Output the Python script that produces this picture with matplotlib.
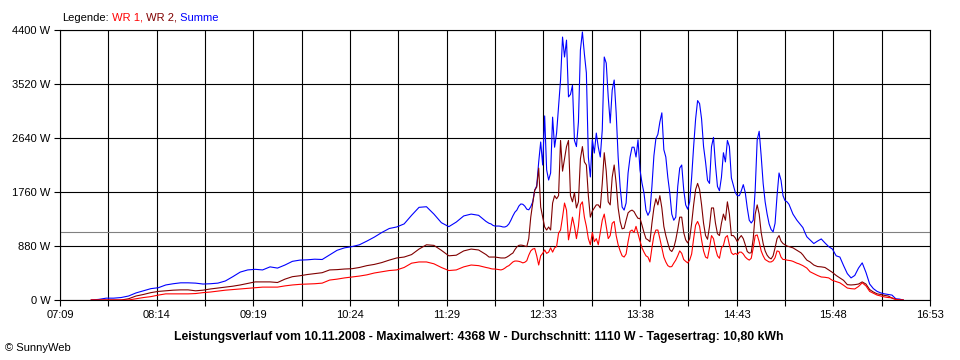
"""SunnyWeb daily power curve for 10.11.2008 (WR 1, WR 2 and their sum)."""

import numpy as np
import matplotlib

matplotlib.use("Agg")
from matplotlib import pyplot as plt

# time grids in minutes after midnight: 5 min in the morning, 80 s around noon, 2.5 min in the evening
t_morning = np.arange(450, 716, 5)
t_midday = 717 + np.arange(161) * 4 / 3
t_evening = np.arange(932.5, 996, 2.5)

summe_morning = [
    0, 10, 30, 30, 40, 65, 115, 150, 185, 200, 245, 265, 280, 280, 275, 260, 265, 275,
    310, 380, 455, 490, 500, 490, 540, 520, 570, 630, 650, 655, 665, 660, 735, 810,
    850, 870, 900, 960, 1025, 1100, 1165, 1190, 1240, 1380, 1510, 1520, 1400, 1260,
    1195, 1270, 1370, 1400, 1380, 1280,
]
wr2_morning = [
    0, 0, 0, 0, 0, 20, 65, 90, 120, 140, 150, 160, 165, 165, 150, 160, 180, 195,
    210, 225, 245, 270, 295, 295, 295, 285, 340, 380, 395, 415, 430, 445, 490, 495,
    505, 510, 530, 560, 580, 610, 650, 685, 700, 740, 830, 900, 890, 810,
    720, 730, 800, 830, 815, 740,
]
wr1_morning = [
    0, 0, 0, 0, 0, 0, 20, 40, 55, 80, 100, 100, 100, 100, 105, 120, 130, 145,
    160, 170, 180, 190, 200, 210, 210, 210, 230, 245, 255, 260, 265, 275, 325, 340,
    360, 375, 390, 410, 440, 460, 480, 490, 530, 600, 620, 620, 590, 530,
    480, 490, 540, 570, 560, 530,
]

summe_midday = [
    1250, 1240, 1215, 1205, 1205, 1205, 1200, 1190, 1190, 1205,
    1240, 1300, 1370, 1430, 1465, 1530, 1565, 1560, 1530, 1480,
    1470, 1520, 1600, 1790, 1860, 2250, 2575, 2200, 3000, 2120,
    1955, 2070, 2980, 2490, 2720, 3145, 3585, 4285, 3960, 4235,
    3310, 3350, 3500, 2600, 2500, 2900, 4075, 4368, 4010, 3700,
    2330, 2005, 2610, 2395, 2720, 2490, 2330, 2770, 3960, 3860,
    3310, 2885, 3420, 3585, 3050, 2330, 1840, 1515, 1465, 1580,
    2070, 2330, 2490, 2490, 2330, 2610, 2120, 1905, 1745, 1465,
    1380, 1450, 1850, 2350, 2630, 2700, 2900, 3050, 2450, 2330,
    2000, 1745, 1400, 1300, 1350, 1850, 2150, 2200, 1800, 1550,
    1480, 1600, 2000, 2500, 2950, 3250, 3200, 2950, 2500, 2250,
    1950, 1900, 2500, 2650, 2200, 1850, 1780, 2000, 2400, 2250,
    2600, 2500, 1990, 1870, 1750, 1700, 1700, 1780, 1880, 1750,
    1500, 1300, 1255, 1300, 1800, 2610, 2750, 2350, 1900, 1600,
    1400, 1240, 1150, 1110, 1250, 1700, 2070, 1950, 1700, 1620,
    1600, 1560, 1480, 1400, 1350, 1300, 1260, 1220, 1180, 1100,
    1030,
]
wr2_midday = [
    700, 700, 700, 700, 695, 690, 685, 685, 685, 700,
    720, 745, 765, 820, 865, 890, 895, 890, 880, 870,
    1000, 1350, 1580, 1790, 1840, 2150, 1515, 1350, 1190, 1140,
    1190, 1140, 1580, 1700, 1650, 1700, 2600, 2100, 2300, 2500,
    2600, 1700, 1600, 1750, 1500, 1600, 2300, 2500, 2250, 2200,
    1700, 1350, 1450, 1500, 1550, 1550, 1500, 1900, 2400, 2100,
    1600, 1550, 2000, 2200, 1900, 1500, 1280, 1160, 1170, 1300,
    1420, 1450, 1465, 1440, 1380, 1330, 1330, 1220, 1100, 1000,
    980, 950, 1250, 1500, 1650, 1550, 1700, 1500, 1200, 1050,
    930, 820, 790, 850, 980, 1150, 1350, 1350, 1100, 980,
    930, 1000, 1250, 1550, 1800, 1900, 1800, 1550, 1250, 1050,
    990, 1200, 1500, 1500, 1250, 1080, 1050, 1250, 1400, 1300,
    1600, 1400, 1050, 1050, 1010, 950, 1010, 1050, 1000, 900,
    790, 765, 770, 1000, 1400, 1550, 1400, 1100, 920, 800,
    730, 690, 670, 720, 850, 1000, 1050, 960, 920, 900,
    880, 870, 860, 850, 830, 810, 790, 770, 735, 690,
    650,
]
wr1_midday = [
    520, 510, 505, 505, 500, 495, 490, 500, 520, 545,
    560, 590, 620, 635, 635, 630, 620, 605, 615, 640,
    730, 800, 830, 840, 720, 570, 720, 760, 815, 760,
    780, 850, 780, 850, 870, 1090, 1140, 1350, 1580, 1465,
    980, 1150, 1350, 1200, 1000, 1200, 1550, 1600, 1350, 1200,
    1000, 900, 1100, 950, 1000, 900, 1100, 1300, 1400, 1200,
    1000, 1050, 1250, 1280, 1050, 900, 800, 720, 700, 750,
    950, 1120, 1140, 1100, 1200, 1080, 960, 850, 780, 720,
    700, 620, 850, 1050, 1140, 1140, 1000, 850, 700, 620,
    560, 540, 545, 600, 650, 720, 800, 760, 660, 630,
    605, 650, 750, 1000, 1220, 1280, 1200, 980, 800, 700,
    680, 850, 1050, 1000, 840, 720, 680, 850, 890, 1020,
    1050, 900, 770, 740, 760, 740, 780, 780, 750, 700,
    670, 650, 680, 850, 1050, 1060, 950, 800, 720, 660,
    640, 620, 620, 640, 690, 800, 790, 700, 660, 660,
    650, 645, 640, 630, 615, 600, 590, 575, 560, 540,
    520,
]

summe_evening = [
    980, 920, 960, 995, 930, 870, 830, 720, 700, 560, 430, 360, 400,
    520, 605, 450, 260, 185, 140, 115, 100, 90, 80, 20, 15, 0,
]
wr2_evening = [
    620, 570, 545, 540, 530, 490, 450, 400, 360, 320, 250, 245, 250,
    260, 295, 260, 170, 130, 100, 90, 75, 65, 30, 10, 0, 0,
]
wr1_evening = [
    460, 430, 400, 375, 370, 360, 320, 300, 280, 240, 195, 185, 180,
    220, 280, 230, 140, 110, 80, 65, 50, 40, 35, 10, 0, 0,
]

average_w = 1110
y_ticks = [0, 880, 1760, 2640, 3520, 4400]
x_tick_labels = ["07:09", "08:14", "09:19", "10:24", "11:29",
                 "12:33", "13:38", "14:43", "15:48", "16:53"]
title = ("Leistungsverlauf vom 10.11.2008 - Maximalwert: 4368 W - "
         "Durchschnitt: 1110 W - Tagesertrag: 10,80 kWh")

RED = "#ff0000"
DARK_RED = "#800000"
BLUE = "#0000ff"
FONT = "Liberation Sans"


def _minutes(label):
    hours, minutes = label.split(":")
    return int(hours) * 60 + int(minutes)


def main():
    times = np.concatenate([t_morning, t_midday, t_evening])
    wr1 = np.concatenate([wr1_morning, wr1_midday, wr1_evening])
    wr2 = np.concatenate([wr2_morning, wr2_midday, wr2_evening])
    summe = np.concatenate([summe_morning, summe_midday, summe_evening])

    start = _minutes(x_tick_labels[0])
    end = _minutes(x_tick_labels[-1])
    grid_x = np.linspace(start, end, 2 * len(x_tick_labels) - 1)
    grid_labels = []
    for label in x_tick_labels:
        grid_labels += [label, ""]
    grid_labels = grid_labels[:-1]

    fig = plt.figure(figsize=(9.6, 3.6), dpi=100)
    ax = fig.add_axes([60 / 960, 60 / 360, 870 / 960, 270 / 360])
    ax.set_xlim(start, end)
    ax.set_ylim(0, y_ticks[-1])

    ax.set_xticks(grid_x)
    ax.set_xticklabels(grid_labels, fontfamily=FONT, fontsize=8)
    ax.set_yticks(y_ticks)
    ax.set_yticklabels([f"{v} W" for v in y_ticks], fontfamily=FONT, fontsize=8)
    ax.tick_params(direction="out", length=4, width=0.8, pad=3, colors="black")
    ax.grid(True, color="black", linewidth=0.8)
    for spine in ax.spines.values():
        spine.set_linewidth(0.8)

    ax.axhline(average_w, color="#808080", linewidth=0.8, zorder=2.5)
    ax.plot(times, summe, color=BLUE, linewidth=0.8, zorder=3)
    ax.plot(times, wr2, color=DARK_RED, linewidth=0.8, zorder=3)
    ax.plot(times, wr1, color=RED, linewidth=0.8, zorder=3)

    legend = fig.text(62 / 960, 1 - 21 / 360, "Legende:", fontfamily=FONT,
                      fontsize=8, color="black", va="baseline")
    prev = legend
    for text, color in [(" WR 1,", RED), (" WR 2,", DARK_RED), (" Summe", BLUE)]:
        prev = ax.annotate(text, xy=(1, 0), xycoords=prev, ha="left", va="bottom",
                           fontfamily=FONT, fontsize=8, color=color)

    fig.text(479 / 960, 1 - 337 / 360, title, fontfamily=FONT, fontsize=8.8,
             fontweight="bold", ha="center", va="center")
    fig.text(5 / 960, 1 - 348 / 360, "\u00a9 SunnyWeb", fontfamily=FONT,
             fontsize=8, ha="left", va="center")

    fig.savefig("out.png", dpi=100)
    plt.close(fig)


if __name__ == "__main__":
    main()
